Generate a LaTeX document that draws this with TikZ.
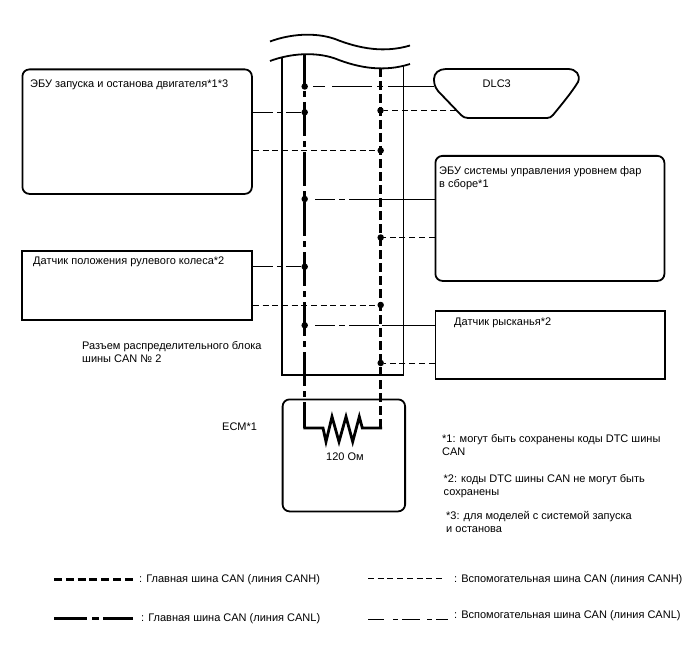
\documentclass[tikz,border=0pt]{standalone}
\usepackage{fontspec}
\setmainfont{Liberation Sans}
\usetikzlibrary{calc}
\tikzset{
 x=1pt,y=-1pt,
 box/.style={draw,line width=1.8pt,inner sep=0pt,anchor=north west},
 roundbox/.style={box,rounded corners=7pt},
 lab/.style={inner sep=0pt,anchor=base west,font=\fontsize{11}{13.5}\selectfont,align=left},
 labm/.style={lab,anchor=north west},
 jn/.style={circle,fill=black,inner sep=0pt,minimum size=6.5pt},
 mainL/.style={line width=3pt,dash pattern=on 34pt off 5pt on 6pt off 5pt,dash phase=3pt},
 mainH/.style={line width=3pt,dash pattern=on 9pt off 4pt},
 subH/.style={line width=1pt,dash pattern=on 6pt off 3.7pt},
 subLa/.style={line width=1pt,dash pattern=on 46pt off 5pt on 6pt off 5pt on 40pt off 7pt on 12pt off 20pt},
 subLb/.style={line width=1pt,dash pattern=on 53pt off 3pt on 30pt off 4pt on 6pt off 4pt on 20pt off 20pt},
 subLc/.style={line width=1pt,dash pattern=on 20pt off 4pt on 5pt off 4pt on 30pt off 20pt},
 frame/.style={line width=1.8pt},
}
\begin{document}
\begin{tikzpicture}
\useasboundingbox (0,0) rectangle (688,658);
% boxes
\node[roundbox,minimum width=229.5pt,minimum height=124.5pt] (ecuA) at (21.5,68.5) {};
\node[box,minimum width=230pt,minimum height=69pt] (steer) at (21,250) {};
\node[roundbox,minimum width=229pt,minimum height=125pt] (ecuB) at (434.5,155) {};
\node[box,minimum width=229.5pt,minimum height=68pt] (yaw) at (434.5,310) {};
\node[roundbox,minimum width=122.5pt,minimum height=112pt] (ecm) at (281.7,398.5) {};
% bus junction box
\coordinate (fTL) at (282,57);
\coordinate (fTR) at (403.5,65);
\coordinate (fBL) at (282,375);
\coordinate (fBR) at (403.5,375);
\draw[frame] (fTL) -- (fBL) -- (fBR) -- (fTR);
% break curves
\draw[frame] (270,41.5) .. controls (290,34) and (315,32) .. (335,39) .. controls (360,49) and (385,53) .. (410,45.5);
\draw[frame] (270,61) .. controls (290,53.5) and (315,51.5) .. (335,58.5) .. controls (360,68.5) and (385,72) .. (410,64);
% DLC3
\coordinate (dlcA) at (434,86.5);
\coordinate (dlcB) at (456,110.5);
\draw[frame] (434,79) .. controls (434,73) and (439,69) .. (446,69) -- (568,69)
  .. controls (576,69) and (581,75) .. (578,82) .. controls (572,92) and (562,104) .. (553,115)
  .. controls (551,117) and (550,118) .. (547,118) -- (468,118)
  .. controls (465,118) and (463,117) .. (461,115) -- (438,91) .. controls (435,87) and (434,84) .. (434,79) -- cycle;
\node[lab] (dlcT) at (482.5,88) {DLC3};
% junctions
\node[jn] (l1) at (304.7,86.5) {};
\node[jn] (l2) at (304.7,112.3) {};
\node[jn] (l3) at (304.7,199) {};
\node[jn] (l4) at (304.7,266.7) {};
\node[jn] (l5) at (304.7,325.3) {};
\node[jn] (h1) at (380.5,110.5) {};
\node[jn] (h2) at (380.7,150.5) {};
\node[jn] (h3) at (380.7,237.5) {};
\node[jn] (h4) at (380.7,305) {};
\node[jn] (h5) at (380.7,363) {};
% buses
\coordinate (lTop) at (304.7,55);
\coordinate (hTop) at (380.7,68);
\coordinate (rA) at (304.7,428);
\coordinate (rB) at (380.7,428);
\draw[mainL] (lTop) -- (rA);
\draw[mainH] (hTop) -- (rB);
% resistor
\draw[line width=2.8pt,line join=miter,line cap=rect] (rA) -- (323,428) -- (326,441.7) -- (332,416.7) -- (339,441.7) -- (346,416.7) -- (352.7,441.7) -- (359.3,416.7) -- (362.3,428) -- (rB);
% branches
\draw[subLa] (dlcA) -- (l1);
\draw[subLc] (ecuA.east |- l2) -- (l2);
\draw[subLb] (ecuB.west |- l3) -- (l3);
\draw[subLc] (steer.east |- l4) -- (l4);
\draw[subLb] (yaw.west |- l5) -- (l5);
\draw[subH] (dlcB) -- (h1);
\draw[subH] (ecuA.east |- h2) -- (h2);
\draw[subH] (ecuB.west |- h3) -- (h3);
\draw[subH] (steer.east |- h4) -- (h4);
\draw[subH] (yaw.west |- h5) -- (h5);
% labels
\node[lab] (t1) at (30,87.5) {ЭБУ запуска и останова двигателя*1*3};
\node[lab] (t2) at (33,264) {Датчик положения рулевого колеса*2};
\node[labm] (t3) at (439,166) {ЭБУ системы управления уровнем фар\\в сборе*1};
\node[lab] (t4) at (454,325) {Датчик рысканья*2};
\node[labm] (t5) at (82,341) {Разъем распределительного блока\\шины CAN № 2};
\node[lab] (t6) at (222,430) {ECM*1};
\node[lab] (t7) at (326,460) {120 Ом};
\node[labm] (n1) at (442,434) {*1: могут быть сохранены коды DTC шины\\CAN};
\node[labm] (n2) at (443.5,474) {*2: коды DTC шины CAN не могут быть\\сохранены};
\node[labm] (n3) at (446,511) {*3: для моделей с системой запуска\\и останова};
% legend
\coordinate (k1a) at (54,579); \coordinate (k1b) at (133,579);
\coordinate (k2a) at (54,618); \coordinate (k2b) at (133,618);
\coordinate (k3a) at (368,578); \coordinate (k3b) at (442,578);
\coordinate (k4a) at (368,619); \coordinate (k4b) at (448,619);
\draw[line width=3pt,dash pattern=on 8pt off 3.8pt] (k1a) -- (k1b);
\draw[line width=3pt,dash pattern=on 33pt off 5pt on 7pt off 4pt] (k2a) -- (k2b);
\draw[subH] (k3a) -- (k3b);
\draw[line width=1pt,dash pattern=on 16pt off 9pt on 5pt off 4pt on 18pt off 7pt on 5pt off 4pt on 12pt off 4pt] (k4a) -- (k4b);
\node[lab] (c1) at (139,582) {: Главная шина CAN (линия CANH)};
\node[lab] (c2) at (141,621) {: Главная шина CAN (линия CANL)};
\node[lab] (c3) at (454,582) {: Вспомогательная шина CAN (линия CANH)};
\node[lab] (c4) at (454,618) {: Вспомогательная шина CAN (линия CANL)};
\end{tikzpicture}
\end{document}
